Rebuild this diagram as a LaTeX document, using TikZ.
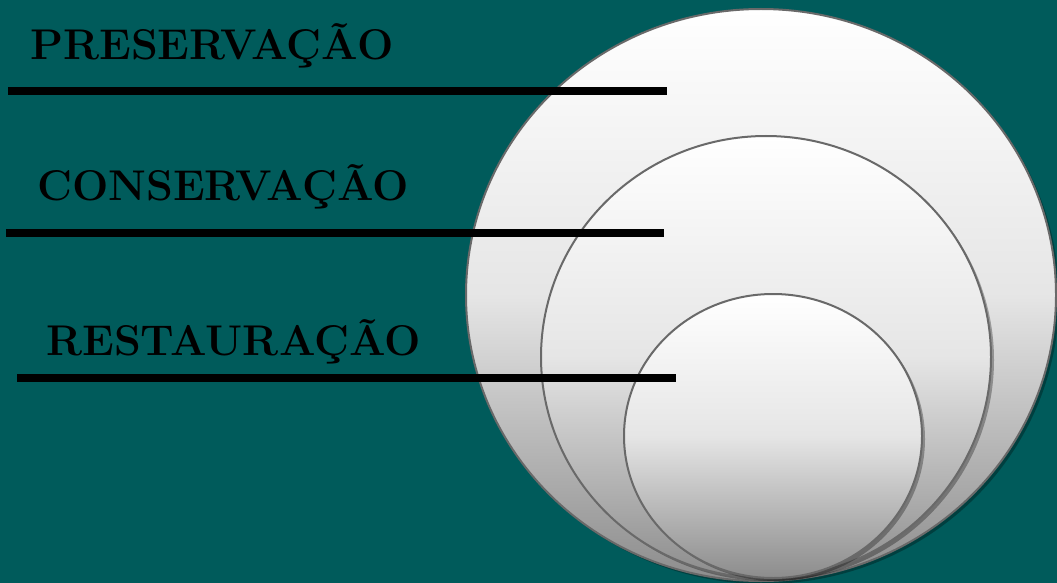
\documentclass[tikz,border=0pt]{standalone}
\usepackage{tikz}
\usetikzlibrary{positioning}
\definecolor{mteal}{RGB}{0,91,91}
\definecolor{mrim}{RGB}{105,105,105}
\tikzset{ball/.style = {draw=mrim, line width=2pt,
                        top color=white, bottom color=white!55!black,
                        middle color=white!90!black}}
\tikzset{ballshade/.style = {fill=black, opacity=0.3}}
\tikzset{lbl/.style = {anchor=base west, inner sep=0,
                       font=\fontsize{43}{43}\selectfont\bfseries}}
\tikzset{bar/.style = {line width=8pt}}

\begin{document}
\begin{tikzpicture}[x=1pt, y=-1pt]
        \fill[mteal] (0,0) rectangle (1057,583);
        \useasboundingbox (0,0) rectangle (1057,583);
        % circles, outer to inner
        \fill[ballshade] (764,298) ellipse [x radius=295, y radius=286];
        \draw[ball] (761,295) ellipse [x radius=295, y radius=286];
        \fill[ballshade] (769,360) ellipse [x radius=225, y radius=221];
        \draw[ball] (766,357) ellipse [x radius=225, y radius=221];
        \fill[ballshade] (776,439) ellipse [x radius=149, y radius=142];
        \draw[ball] (773,436) ellipse [x radius=149, y radius=142];
        % labels
        \node[lbl] (pres) at (30,60) {PRESERVAÇÃO};
        \node[lbl] (cons) at (37,200) {CONSERVAÇÃO};
        \node[lbl] (rest) at (46,355) {RESTAURAÇÃO};
        \coordinate (pa) at (8,91);   \coordinate (pb) at (667,91);
        \coordinate (ca) at (6,233);  \coordinate (cb) at (664,233);
        \coordinate (ra) at (17,378); \coordinate (rb) at (676,378);
        \draw[bar] (pa) -- (pb);
        \draw[bar] (ca) -- (cb);
        \draw[bar] (ra) -- (rb);
\end{tikzpicture}
\end{document}
